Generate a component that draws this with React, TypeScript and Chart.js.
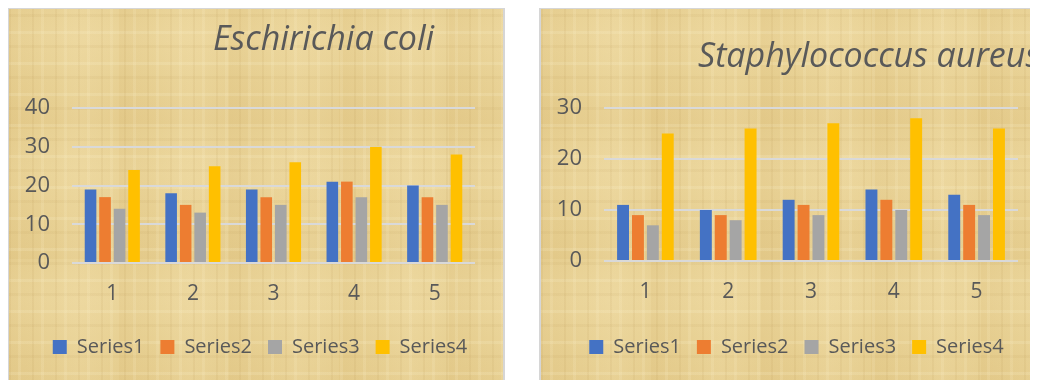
import React, { useEffect, useRef } from "react";
import { Chart, registerables } from "chart.js";

Chart.register(...registerables);

const categories = ["1", "2", "3", "4", "5"];
const seriesNames = ["Series1", "Series2", "Series3", "Series4"];
const seriesColors = ["#4472C4", "#ED7D31", "#A5A5A5", "#FFC000"];

const ecoliTitle = "Eschirichia coli";
const ecoliSeries1 = [19, 18, 19, 21, 20];
const ecoliSeries2 = [17, 15, 17, 21, 17];
const ecoliSeries3 = [14, 13, 15, 17, 15];
const ecoliSeries4 = [24, 25, 26, 30, 28];
const ecoliTicks = [0, 10, 20, 30, 40];

const staphTitle = "Staphylococcus aureus";
const staphSeries1 = [11, 10, 12, 14, 13];
const staphSeries2 = [9, 9, 11, 12, 11];
const staphSeries3 = [7, 8, 9, 10, 9];
const staphSeries4 = [25, 26, 27, 28, 26];
const staphTicks = [0, 10, 20, 30];

const FONT = "'Open Sans', Lato, sans-serif";
const TEXT = "#595959";

const placedTitle = {
  id: "placedTitle",
  afterLayout(chart: any, _args: any, opts: any) {
    const lg = chart.legend;
    if (lg && opts && opts.legendShift) {
      lg.left += opts.legendShift;
      lg.right += opts.legendShift;
    }
  },
  afterDraw(chart: any, _args: any, opts: any) {
    if (!opts || !opts.text) return;
    const ctx = chart.ctx;
    ctx.save();
    ctx.font = `italic ${opts.size}px ${FONT}`;
    ctx.fillStyle = TEXT;
    ctx.textBaseline = "alphabetic";
    ctx.textAlign = "left";
    ctx.fillText(opts.text, opts.x, opts.y);
    ctx.restore();
  },
};

type PanelProps = {
  title: string;
  series: number[][];
  ticks: number[];
  width: number;
  height: number;
  padRight: number;
  xAxisHeight: number;
  titleX: number;
  titleY: number;
  legendShift: number;
};

function Panel({ title, series, ticks, width, height, padRight, xAxisHeight, titleX, titleY, legendShift }: PanelProps) {
  const ref = useRef<HTMLCanvasElement | null>(null);
  useEffect(() => {
    if (!ref.current) return;
    const chart = new Chart(ref.current, {
      type: "bar",
      data: {
        labels: categories,
        datasets: series.map((vals, i) => ({
          label: seriesNames[i],
          data: vals,
          backgroundColor: seriesColors[i],
          borderWidth: 0,
          barPercentage: 0.8,
          categoryPercentage: 0.72,
        })),
      },
      plugins: [placedTitle],
      options: {
        responsive: false,
        animation: false,
        layout: { padding: { top: 99, left: 0, right: padRight, bottom: 14 } },
        scales: {
          x: {
            grid: { display: false, drawTicks: false },
            border: { display: false },
            ticks: { color: TEXT, font: { family: FONT, size: 21 }, padding: 18 },
            afterFit: (s: any) => {
              s.height = xAxisHeight;
            },
          },
          y: {
            min: ticks[0],
            max: ticks[ticks.length - 1],
            afterBuildTicks: (s: any) => {
              s.ticks = ticks.map((v) => ({ value: v }));
            },
            grid: { color: "#D9D9D9", lineWidth: 2, drawTicks: false },
            border: { display: false },
            ticks: { color: TEXT, font: { family: FONT, size: 22 }, padding: 22 },
            afterFit: (s: any) => {
              s.width = 63;
            },
          },
        },
        plugins: {
          legend: {
            position: "bottom",
            labels: {
              color: TEXT,
              font: { family: FONT, size: 20 },
              boxWidth: 14,
              boxHeight: 14,
              padding: 16,
            },
          },
          tooltip: { enabled: false },
          title: { display: false },
          placedTitle: { text: title, x: titleX, y: titleY, size: 34, legendShift },
        } as any,
      },
    } as any);
    return () => chart.destroy();
  }, []);
  return <canvas ref={ref} width={width} height={height} style={{ display: "block" }} />;
}

const papyrus: React.CSSProperties = {
  backgroundColor: "#E8D194",
  backgroundImage: [
    "repeating-linear-gradient(90deg, rgba(160,120,50,0.07) 0px, rgba(160,120,50,0.07) 2px, transparent 2px, transparent 9px, rgba(255,245,210,0.14) 9px, rgba(255,245,210,0.14) 12px, transparent 12px, transparent 23px)",
    "repeating-linear-gradient(0deg, rgba(160,120,50,0.06) 0px, rgba(160,120,50,0.06) 3px, transparent 3px, transparent 14px, rgba(255,250,220,0.15) 14px, rgba(255,250,220,0.15) 17px, transparent 17px, transparent 31px)",
    "repeating-linear-gradient(90deg, rgba(200,160,80,0.10) 0px, transparent 40px, rgba(250,235,190,0.15) 70px, transparent 110px)",
    "repeating-linear-gradient(0deg, rgba(200,160,80,0.10) 0px, transparent 50px, rgba(250,235,190,0.15) 90px, transparent 130px)",
  ].join(","),
};

export default function App() {
  return (
    <div style={{ position: "relative", width: 1030, height: 373, overflow: "hidden", marginLeft: -1, marginTop: -1 }}>
      <div
        style={{
          position: "absolute",
          left: 0,
          top: 0,
          width: 494,
          height: 380,
          border: "2px solid #D6D6D6",
          ...papyrus,
        }}
      >
        <Panel
          title={ecoliTitle}
          series={[ecoliSeries1, ecoliSeries2, ecoliSeries3, ecoliSeries4]}
          ticks={ecoliTicks}
          width={494}
          height={372}
          padRight={28}
          xAxisHeight={58}
          titleX={204}
          titleY={41}
          legendShift={18}
        />
      </div>
      <div
        style={{
          position: "absolute",
          left: 532,
          top: 0,
          width: 514,
          height: 380,
          border: "2px solid #D6D6D6",
          ...papyrus,
        }}
      >
        <Panel
          title={staphTitle}
          series={[staphSeries1, staphSeries2, staphSeries3, staphSeries4]}
          ticks={staphTicks}
          width={514}
          height={372}
          padRight={37}
          xAxisHeight={60}
          titleX={157}
          titleY={58}
          legendShift={17}
        />
      </div>
    </div>
  );
}
